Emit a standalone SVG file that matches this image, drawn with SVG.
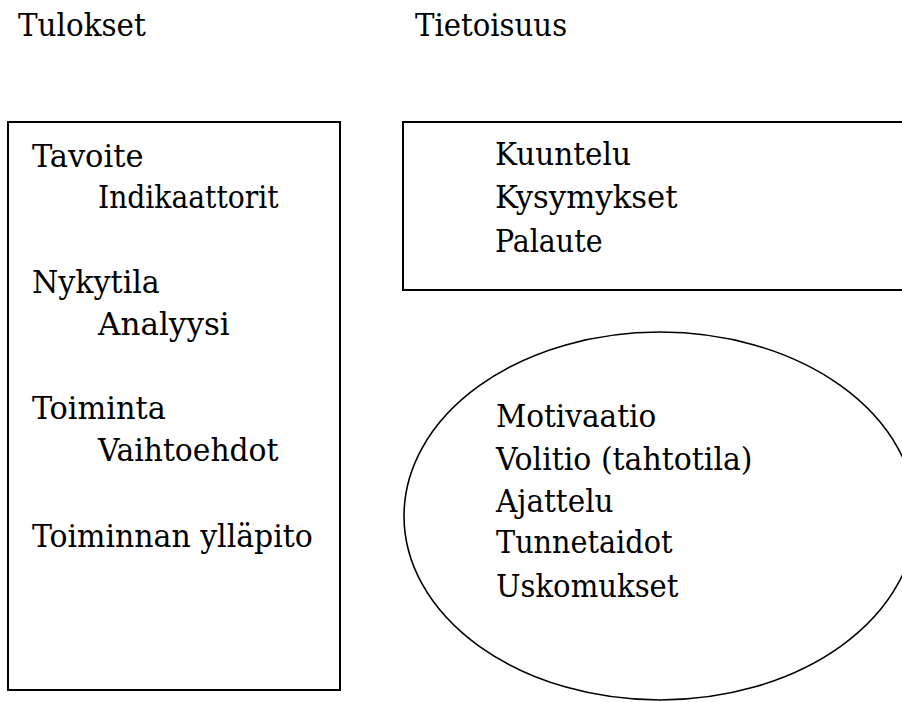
<svg xmlns="http://www.w3.org/2000/svg" width="902" height="702" viewBox="0 0 902 702">
<style>
text { font-family: 'DejaVu Serif', 'Liberation Serif', serif; font-stretch: condensed; font-size: 32px; fill: #000; }
.box { fill: none; stroke: #000; stroke-width: 2; }
.oval { fill: none; stroke: #000; stroke-width: 1.6; }
</style>
<rect width="902" height="702" fill="#fff"/>
<g id="title-tulokset"><text x="18" y="36" textLength="127.8" lengthAdjust="spacingAndGlyphs">Tulokset</text></g>
<g id="title-tietoisuus"><text x="415" y="36" textLength="152.1" lengthAdjust="spacingAndGlyphs">Tietoisuus</text></g>
<g id="tulokset-box">
<rect class="box" x="8" y="122" width="332" height="568"/>
<text x="32" y="167" textLength="111.5" lengthAdjust="spacingAndGlyphs">Tavoite</text>
<text x="98" y="208" textLength="180.5" lengthAdjust="spacingAndGlyphs">Indikaattorit</text>
<text x="32" y="293" textLength="127.8" lengthAdjust="spacingAndGlyphs">Nykytila</text>
<text x="98" y="335" textLength="131.8" lengthAdjust="spacingAndGlyphs">Analyysi</text>
<text x="32" y="419" textLength="133.8" lengthAdjust="spacingAndGlyphs">Toiminta</text>
<text x="98" y="461" textLength="180.5" lengthAdjust="spacingAndGlyphs">Vaihtoehdot</text>
<text x="32" y="547" textLength="280.9" lengthAdjust="spacingAndGlyphs">Toiminnan ylläpito</text>
</g>
<g id="tietoisuus-box">
<rect class="box" x="403" y="122" width="510" height="168"/>
<text x="495" y="165" textLength="135.9" lengthAdjust="spacingAndGlyphs">Kuuntelu</text>
<text x="495" y="208" textLength="182.5" lengthAdjust="spacingAndGlyphs">Kysymykset</text>
<text x="495" y="252" textLength="107.5" lengthAdjust="spacingAndGlyphs">Palaute</text>
</g>
<g id="ellipse-node">
<ellipse class="oval" cx="660" cy="516" rx="256" ry="184"/>
<text x="496" y="427" textLength="160.2" lengthAdjust="spacingAndGlyphs">Motivaatio</text>
<text x="496" y="470" textLength="256.5" lengthAdjust="spacingAndGlyphs">Volitio (tahtotila)</text>
<text x="496" y="512" textLength="117.6" lengthAdjust="spacingAndGlyphs">Ajattelu</text>
<text x="496" y="553" textLength="176.4" lengthAdjust="spacingAndGlyphs">Tunnetaidot</text>
<text x="496" y="597" textLength="182.5" lengthAdjust="spacingAndGlyphs">Uskomukset</text>
</g>
<g id="connectors"></g>
</svg>
